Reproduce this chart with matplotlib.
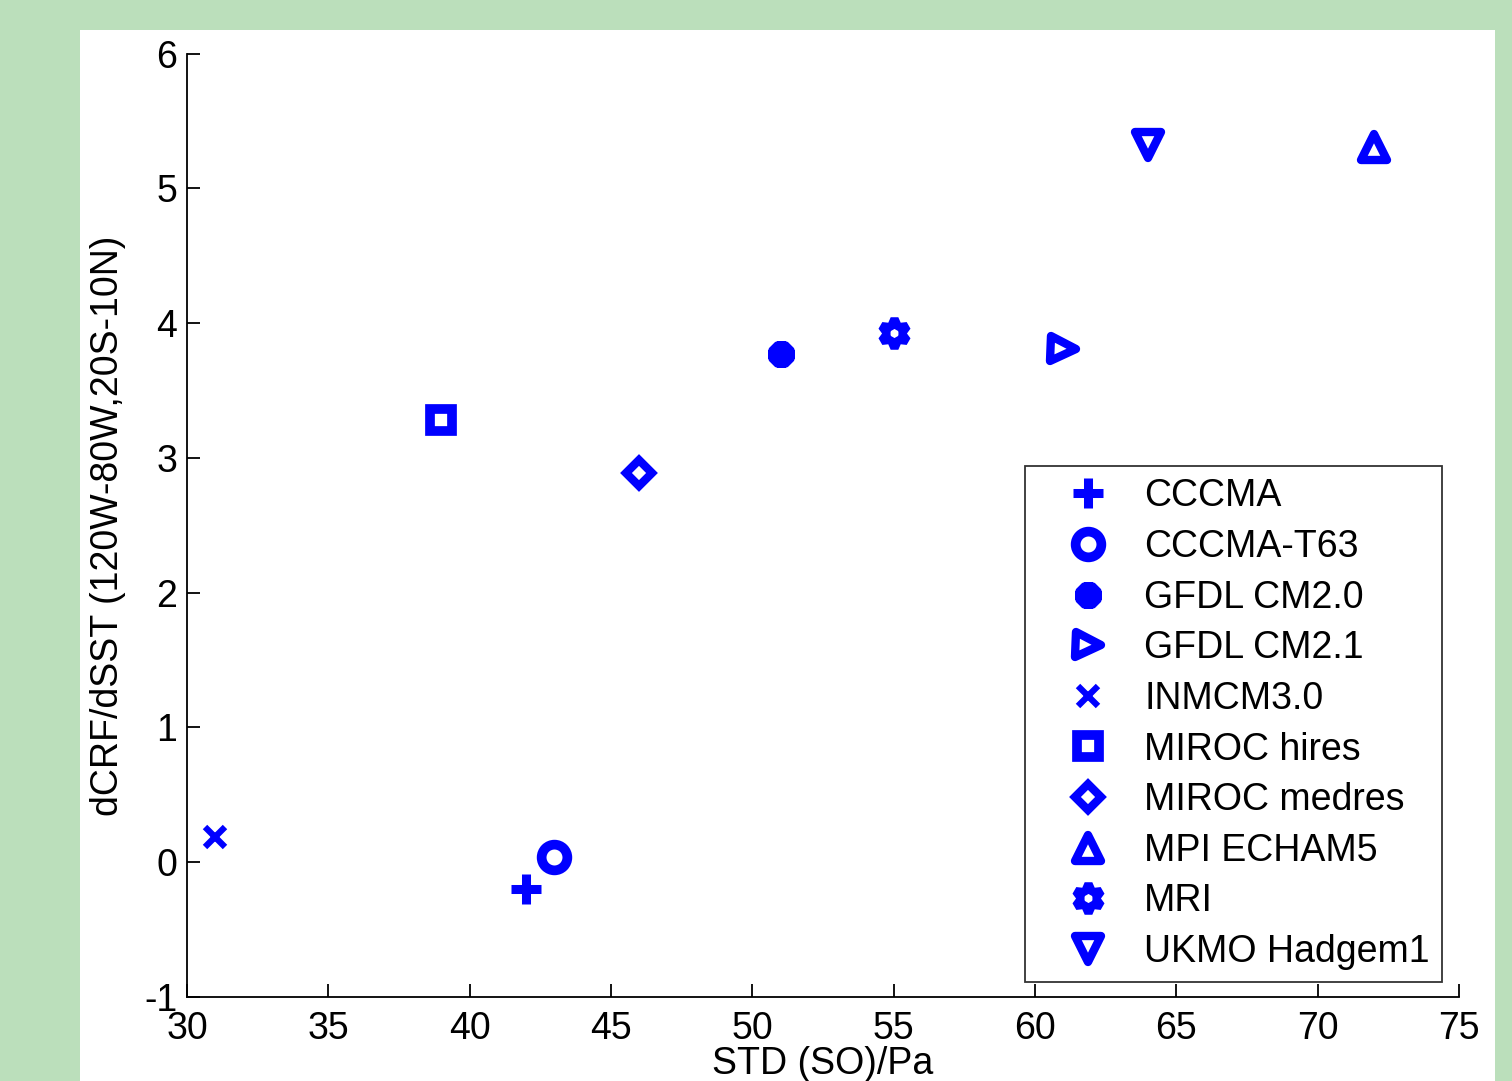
import matplotlib
matplotlib.use("Agg")
import matplotlib.pyplot as plt
from matplotlib.markers import MarkerStyle
from matplotlib.patches import Rectangle

# data
models = ["CCCMA", "CCCMA-T63", "GFDL CM2.0", "GFDL CM2.1", "INMCM3.0",
          "MIROC hires", "MIROC medres", "MPI ECHAM5", "MRI", "UKMO Hadgem1"]
std_so = [42, 43, 51, 61, 31, 39, 46, 72, 55, 64]
dcrf_dsst = [-0.2, 0.04, 3.77, 3.81, 0.19, 3.28, 2.89, 5.31, 3.93, 5.32]

x_ticks = [30, 35, 40, 45, 50, 55, 60, 65, 70, 75]
y_ticks = [-1, 0, 1, 2, 3, 4, 5, 6]

# marker styles (MATLAB-like symbols)
marker_style = {
    "CCCMA": dict(marker="+", ms=22, mew=6.5),
    "CCCMA-T63": dict(marker="o", ms=18.5, mew=7, mfc="none"),
    "GFDL CM2.0": dict(marker=(8, 2, 0), ms=19, mew=7),
    "GFDL CM2.1": dict(marker=MarkerStyle(">", joinstyle="round"), ms=18, mew=6, mfc="none"),
    "INMCM3.0": dict(marker="x", ms=14, mew=4.5),
    "MIROC hires": dict(marker="s", ms=16, mew=7, mfc="none"),
    "MIROC medres": dict(marker="D", ms=13.5, mew=6, mfc="none"),
    "MPI ECHAM5": dict(marker=MarkerStyle("^", joinstyle="round"), ms=19, mew=6, mfc="none"),
    "MRI": dict(marker=(6, 1, 0), ms=21, mew=6, mfc="none"),
    "UKMO Hadgem1": dict(marker=MarkerStyle("v", joinstyle="round"), ms=19, mew=6, mfc="none"),
}

plt.rcParams["font.family"] = ["Liberation Sans", "DejaVu Sans"]
plt.rcParams["axes.unicode_minus"] = False

FS = 27
W, H = 1512, 1081
fig = plt.figure(figsize=(W / 100, H / 100), dpi=100, facecolor="#bbdfbb")
fig.patches.append(Rectangle((80 / W, 0), (1495 - 80) / W, 1 - 30 / H,
                             transform=fig.transFigure, facecolor="white",
                             edgecolor="none", zorder=-10))

ax = fig.add_axes([187 / W, 1 - 997 / H, (1459 - 187) / W, (997 - 53.7) / H])
ax.set_facecolor("white")

handles = []
for name, x, y in zip(models, std_so, dcrf_dsst):
    st = marker_style[name]
    h, = ax.plot([x], [y], linestyle="none", color="#0000ff", mec="#0000ff",
                 label=name, **st)
    handles.append(h)

ax.set_xlim(30, 75)
ax.set_ylim(-1, 6)
ax.set_xticks(x_ticks)
ax.set_yticks(y_ticks)
ax.spines["top"].set_visible(False)
ax.spines["right"].set_visible(False)
for s in ("left", "bottom"):
    ax.spines[s].set_linewidth(1.3)
ax.tick_params(direction="in", length=9.5, width=1.3, labelsize=FS)
ax.tick_params(axis="x", pad=10)
ax.tick_params(axis="y", pad=7)

ax.set_xlabel("STD (SO)/Pa", fontsize=FS, labelpad=-1)
ax.set_ylabel("dCRF/dSST (120W-80W,20S-10N)", fontsize=FS, labelpad=13)

leg = ax.legend(handles=handles, loc="upper left",
                bbox_to_anchor=(1025 / W, 1 - 466 / H),
                bbox_transform=fig.transFigure, fontsize=FS,
                frameon=True, fancybox=False, borderaxespad=0,
                borderpad=0.33, handlelength=2.72, handletextpad=0.13,
                labelspacing=0.39, numpoints=1)
leg.get_frame().set_edgecolor("black")
leg.get_frame().set_linewidth(1.3)

fig.savefig("out.png", dpi=100, facecolor=fig.get_facecolor())
